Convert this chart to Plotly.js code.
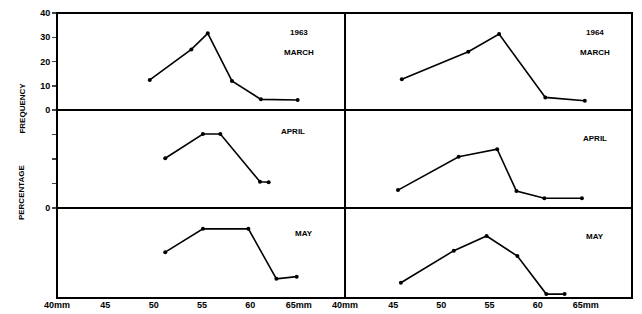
<!DOCTYPE html>
<html><head><meta charset="utf-8">
<script src="https://cdn.plot.ly/plotly-3.0.1.min.js"></script>
<style>html,body{margin:0;padding:0;background:#fff}</style>
</head><body>
<div id="chart" style="width:642px;height:314px"></div>
<script>
// lengths in mm
const mar63_x = [49.6, 53.9, 55.6, 58.1, 61.1, 64.9];
const mar63_y = [12.4, 25.0, 31.6, 12.0, 4.4, 4.1];
const mar64_x = [45.9, 52.8, 56.0, 60.8, 64.9];
const mar64_y = [12.7, 24.0, 31.3, 5.2, 3.8];
const apr63_x = [51.2, 55.1, 56.9, 61.0, 61.9];
const apr63_y = [20.3, 30.2, 30.2, 10.7, 10.5];
const apr64_x = [45.5, 51.8, 55.8, 57.8, 60.7, 64.6];
const apr64_y = [7.3, 20.9, 24.0, 6.9, 4.0, 4.0];
const may63_x = [51.2, 55.1, 59.8, 62.7, 64.8];
const may63_y = [18.7, 28.2, 28.2, 7.8, 8.7];
const may64_x = [45.8, 51.3, 54.7, 57.9, 60.9, 62.8];
const may64_y = [6.2, 19.3, 25.3, 17.1, 1.6, 1.6];

const xTickVals = [40, 45, 50, 55, 60, 65];
const xTickText = ['40mm', '45', '50', '55', '60', '65mm'];
const yTopVals = [0, 10, 20, 30, 40];
const yTopText = ['0', '10', '20', '30', '40'];
const yMidVals = [0, 10, 20, 30];
const yMidText = ['0', '', '', ''];

const panelLabels = [
  {t: '1963', col: 0, row: 0, dy: 0}, {t: 'MARCH', col: 0, row: 0, dy: 1},
  {t: '1964', col: 1, row: 0, dy: 0}, {t: 'MARCH', col: 1, row: 0, dy: 1},
  {t: 'APRIL', col: 0, row: 1, dy: 0}, {t: 'APRIL', col: 1, row: 1, dy: 0},
  {t: 'MAY', col: 0, row: 2, dy: 0}, {t: 'MAY', col: 1, row: 2, dy: 0}
];

const series = [
  [mar63_x, mar63_y], [mar64_x, mar64_y],
  [apr63_x, apr63_y], [apr64_x, apr64_y],
  [may63_x, may63_y], [may64_x, may64_y]
];

const fontFam = 'Liberation Sans, Arial, sans-serif';
const xsplit = 0.5009;
const xdom = [[0, xsplit], [xsplit, 1]];
const ysplits = [0.6596, 0.3158];
const ydom = [[ysplits[0], 1], [ysplits[1], ysplits[0]], [0, ysplits[1]]];
const yrange = [[0, 40], [0, 40], [0, 36.7]];

const data = [];
const layout = {
  width: 642, height: 314,
  margin: {l: 57, r: 10, t: 13, b: 16},
  paper_bgcolor: '#fff', plot_bgcolor: '#fff',
  showlegend: false,
  font: {family: fontFam, color: '#000'},
  annotations: [],
  shapes: [
    {type: 'rect', xref: 'paper', yref: 'paper', x0: 0, x1: 1, y0: 0, y1: 1, line: {color: '#000', width: 2}},
    {type: 'line', xref: 'paper', yref: 'paper', x0: xsplit, x1: xsplit, y0: 0, y1: 1, line: {color: '#000', width: 2}},
    {type: 'line', xref: 'paper', yref: 'paper', x0: 0, x1: 1, y0: ysplits[0], y1: ysplits[0], line: {color: '#000', width: 2}},
    {type: 'line', xref: 'paper', yref: 'paper', x0: 0, x1: 1, y0: ysplits[1], y1: ysplits[1], line: {color: '#000', width: 2}}
  ]
};

series.forEach((s, i) => {
  const row = Math.floor(i / 2), col = i % 2;
  const n = i + 1;
  const xa = n === 1 ? 'x' : 'x' + n;
  const ya = n === 1 ? 'y' : 'y' + n;
  data.push({
    x: s[0], y: s[1], xaxis: xa, yaxis: ya, type: 'scatter', mode: 'lines+markers',
    line: {color: '#000', width: 1.6}, marker: {color: '#000', size: 4}, cliponaxis: false
  });
  const xk = n === 1 ? 'xaxis' : 'xaxis' + n;
  const yk = n === 1 ? 'yaxis' : 'yaxis' + n;
  layout[xk] = {
    domain: xdom[col], range: [40, 69.8], anchor: ya,
    showgrid: false, zeroline: false, showline: false,
    tickvals: row === 2 ? xTickVals : [], ticktext: row === 2 ? xTickText : [],
    showticklabels: row === 2, ticks: '',
    tickfont: {size: 9, family: fontFam, weight: 'bold'}
  };
  const yax = {
    domain: ydom[row], range: yrange[row], anchor: xa,
    showgrid: false, zeroline: false, showline: false,
    tickfont: {size: 9, family: fontFam, weight: 'bold'}
  };
  if (col === 0 && row === 0) {
    yax.tickvals = yTopVals; yax.ticktext = yTopText; yax.ticks = 'outside'; yax.ticklen = 4; yax.tickwidth = 1.5;
  } else if (col === 0 && row === 1) {
    yax.tickvals = yMidVals; yax.ticktext = yMidText; yax.ticks = 'outside'; yax.ticklen = 4; yax.tickwidth = 1.5;
  } else {
    yax.showticklabels = false; yax.ticks = '';
  }
  layout[yk] = yax;
});

const labelPos = {
  '0,0': [0.42, 0.93], '1,0': [0.935, 0.93],
  '0,1': [0.41, 0.585], '1,1': [0.935, 0.56],
  '0,2': [0.43, 0.225], '1,2': [0.935, 0.215]
};
panelLabels.forEach(p => {
  const pos = labelPos[p.col + ',' + p.row];
  layout.annotations.push({
    xref: 'paper', yref: 'paper', x: pos[0], y: pos[1] - p.dy * 0.07,
    text: '<b>' + p.t + '</b>', showarrow: false,
    font: {size: 8, family: fontFam, color: '#000'}, xanchor: 'center', yanchor: 'middle'
  });
});

layout.annotations.push({
  xref: 'paper', yref: 'paper', x: -0.072, y: 0.665, text: '<b>FREQUENCY</b>',
  textangle: -90, showarrow: false, font: {size: 8, family: fontFam, color: '#000'}
});
layout.annotations.push({
  xref: 'paper', yref: 'paper', x: -0.072, y: 0.372, text: '<b>PERCENTAGE</b>',
  textangle: -90, showarrow: false, font: {size: 8, family: fontFam, color: '#000'}
});

Plotly.newPlot('chart', data, layout, {displayModeBar: false, staticPlot: true});
</script>
</body></html>
